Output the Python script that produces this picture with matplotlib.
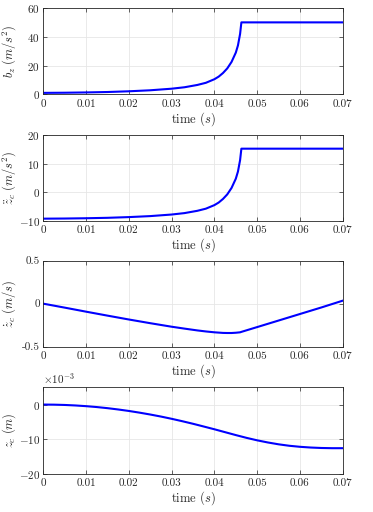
import numpy as np
import matplotlib
matplotlib.use("Agg")
import matplotlib.pyplot as plt
from matplotlib.ticker import ScalarFormatter

plt.rcParams["font.family"] = "serif"
plt.rcParams["font.serif"] = ["cmr10", "DejaVu Serif"]
plt.rcParams["mathtext.fontset"] = "cm"
plt.rcParams["axes.formatter.use_mathtext"] = True
plt.rcParams["axes.unicode_minus"] = False

# values
t_bz = [0.0, 0.005, 0.01, 0.015, 0.02, 0.025, 0.03, 0.033, 0.036, 0.038, 0.04,
        0.041, 0.042, 0.043, 0.044, 0.045, 0.0455, 0.046, 0.0463, 0.047, 0.07]
bz = [1.0, 1.1, 1.3, 1.6, 2.1, 2.8, 3.9, 4.9, 6.5, 8.0, 10.5,
      12.3, 14.8, 18.0, 22.5, 29.0, 34.0, 42.0, 50.0, 50.0, 50.0]

t_zdd = t_bz
zdd = [-9.3, -9.25, -9.15, -9.0, -8.75, -8.4, -7.85, -7.35, -6.55, -5.8, -4.55,
       -3.65, -2.4, -0.8, 1.45, 4.7, 7.2, 11.2, 15.2, 15.2, 15.2]

t_zd = [0.0, 0.005, 0.01, 0.015, 0.02, 0.025, 0.03, 0.033, 0.036, 0.038, 0.04,
        0.042, 0.043, 0.044, 0.045, 0.046, 0.0463, 0.05, 0.055, 0.06, 0.065, 0.07]
zd = [0.0, -0.046, -0.093, -0.139, -0.184, -0.227, -0.268, -0.29, -0.311, -0.323, -0.333,
      -0.340, -0.341, -0.341, -0.338, -0.333, -0.328, -0.272, -0.196, -0.120, -0.044, 0.035]

t_z = [0.0, 0.0025, 0.005, 0.0075, 0.01, 0.0125, 0.015, 0.0175, 0.02, 0.0225, 0.025,
       0.0275, 0.03, 0.0325, 0.035, 0.0375, 0.04, 0.0425, 0.045, 0.0475, 0.05,
       0.0525, 0.055, 0.0575, 0.06, 0.0625, 0.065, 0.0675, 0.07]
z = [0.0, -0.03, -0.115, -0.26, -0.463, -0.72, -1.04, -1.42, -1.85, -2.34, -2.88,
     -3.47, -4.12, -4.82, -5.56, -6.35, -7.15, -7.99, -8.83, -9.63, -10.35,
     -10.97, -11.5, -11.92, -12.22, -12.43, -12.56, -12.62, -12.62]
z = np.array(z) * 1e-3

txt = "#262626"
fig = plt.figure(figsize=(3.73, 5.12), dpi=100)
rects = [[0.116, 0.8158, 0.803, 0.1686],
         [0.116, 0.569, 0.803, 0.1674],
         [0.116, 0.3229, 0.803, 0.168],
         [0.116, 0.0748, 0.803, 0.1688]]
series = [(t_bz, bz, r"$b_z\ (m/s^2)$", (0, 60), [0, 20, 40, 60]),
          (t_zdd, zdd, r"$\ddot{z}_c\ (m/s^2)$", (-10, 20), [-10, 0, 10, 20]),
          (t_zd, zd, r"$\dot{z}_c\ (m/s)$", (-0.5, 0.5), [-0.5, 0, 0.5]),
          (t_z, z, r"$z_c\ (m)$", (-0.02, 0.005), [-0.02, -0.01, 0])]

for rect, (tt, yy, lab, yl, yt) in zip(rects, series):
    ax = fig.add_axes(rect)
    ax.plot(tt, yy, color=(0, 0, 1), lw=1.5)
    ax.set_xlim(0, 0.07)
    ax.set_ylim(*yl)
    ax.set_xticks([0, 0.01, 0.02, 0.03, 0.04, 0.05, 0.06, 0.07])
    ax.set_xticklabels(["0", "0.01", "0.02", "0.03", "0.04", "0.05", "0.06", "0.07"])
    ax.set_yticks(yt)
    if yl[1] == 0.005:
        fmt = ScalarFormatter(useMathText=True)
        fmt.set_powerlimits((-3, -3))
        ax.yaxis.set_major_formatter(fmt)
        ax.yaxis.get_offset_text().set_fontsize(8)
        ax.yaxis.get_offset_text().set_color(txt)
    elif yl[1] == 0.5:
        ax.set_yticklabels(["-0.5", "0", "0.5"])
    ax.grid(True, color="#e6e6e6", lw=0.6)
    ax.set_axisbelow(True)
    ax.tick_params(direction="in", top=True, right=True, labelsize=8,
                   colors=txt, length=3, width=0.5)
    ax.tick_params(axis="y", pad=2.5)
    for s in ax.spines.values():
        s.set_color("#262626")
        s.set_linewidth(0.6)
    ax.set_xlabel(r"time $(s)$", fontsize=9, color=txt, labelpad=1)
    ax.set_ylabel(lab, fontsize=9, color=txt)
    ax.yaxis.set_label_coords(-0.085, 0.5)

fig.savefig("out.png", dpi=100)
